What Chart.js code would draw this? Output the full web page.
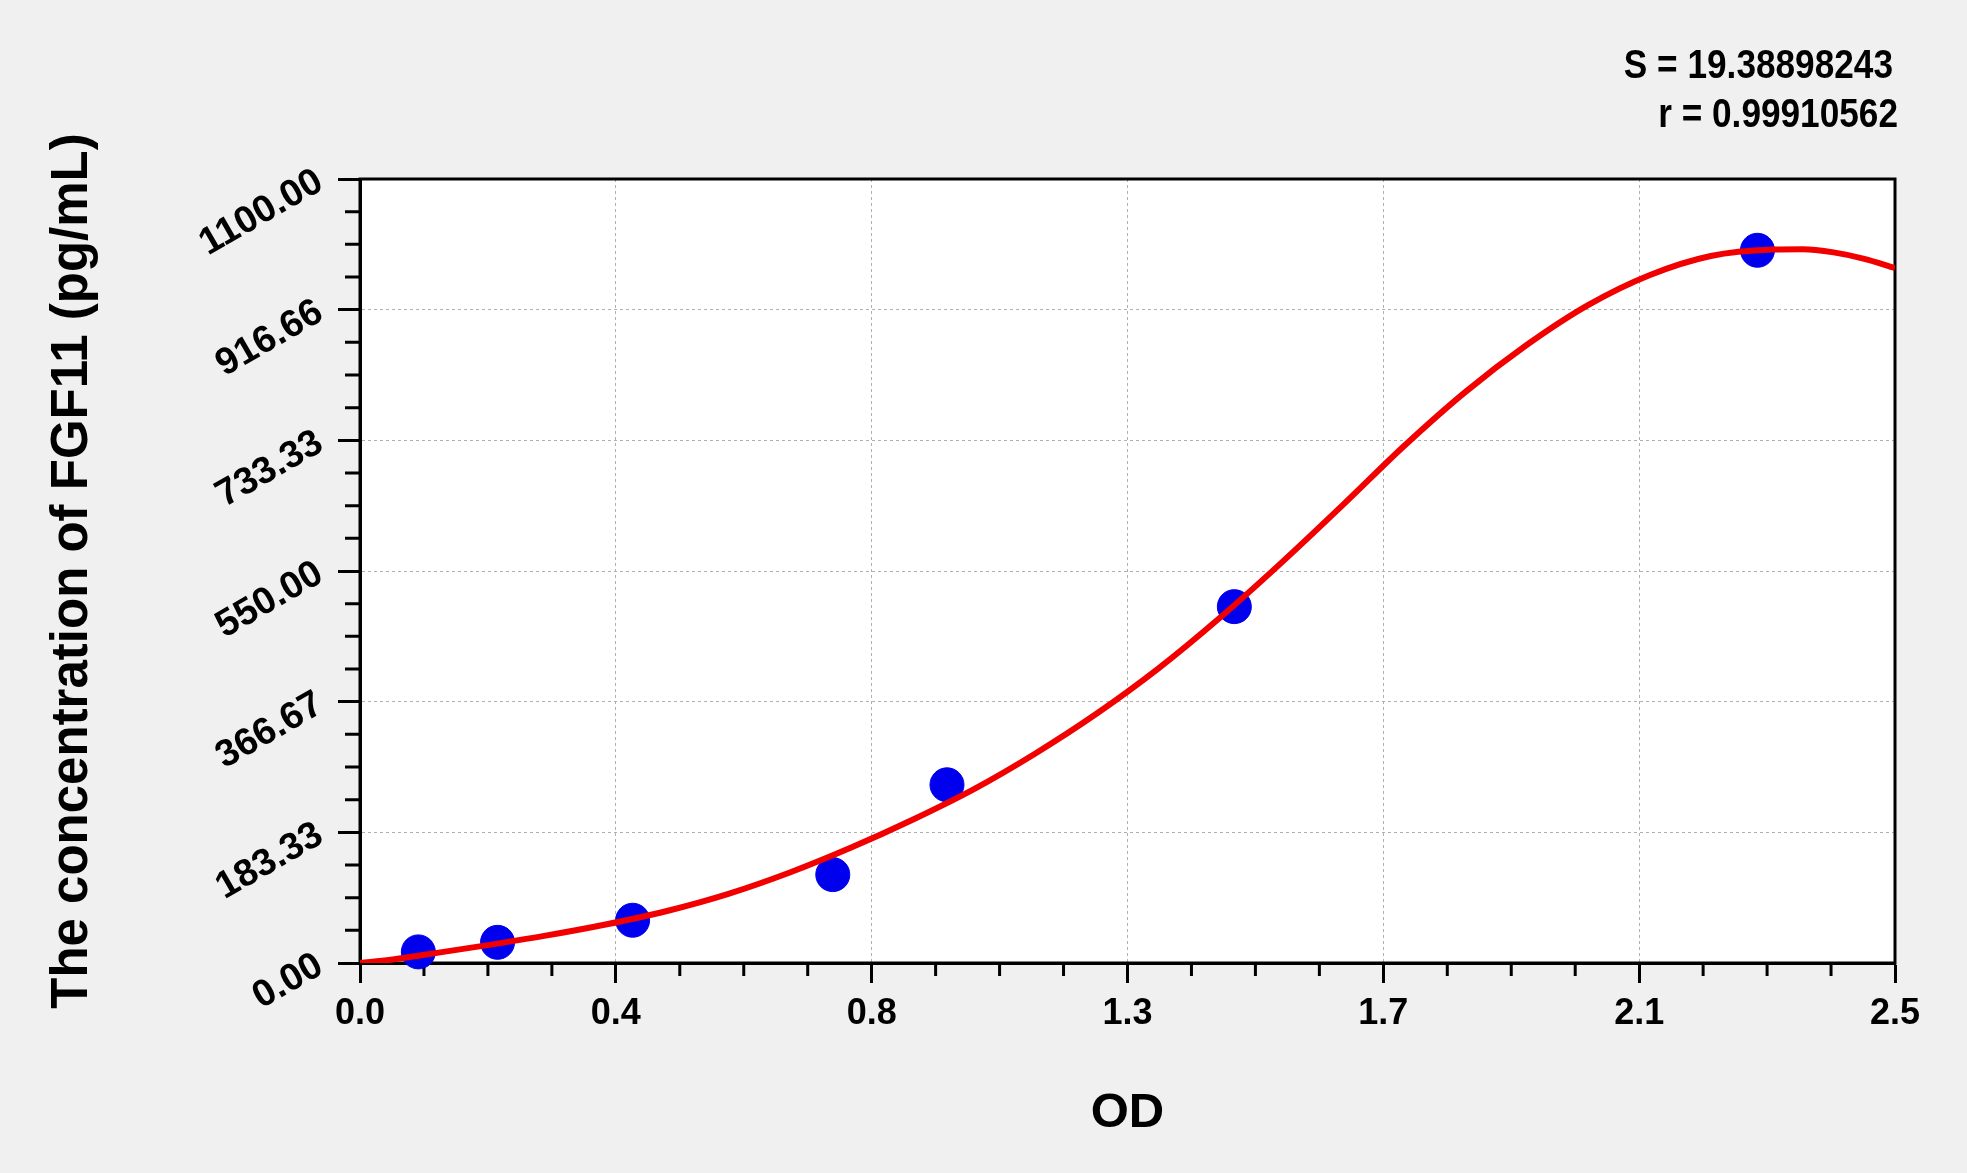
<!DOCTYPE html>
<html>
<head>
<meta charset="utf-8">
<script src="https://cdn.jsdelivr.net/npm/chart.js@4.4.1/dist/chart.umd.min.js"></script>
<style>
  html, body { margin: 0; padding: 0; background: #f0f0f0; }
  #wrap { width: 1967px; height: 1173px; position: relative; }
</style>
</head>
<body>
<div id="wrap"><canvas id="c"></canvas></div>
<script>
// ---------- data ----------
const xTickLabels = ['0.0', '0.4', '0.8', '1.3', '1.7', '2.1', '2.5'];
const yTickLabels = ['0.00', '183.33', '366.67', '550.00', '733.33', '916.66', '1100.00'];
const xAxisMax = 2.5;
const yAxisMax = 1100;

const standardOD   = [0.095, 0.224, 0.444, 0.770, 0.956, 1.424, 2.276];
const standardConc = [15.6, 29, 60, 124, 250, 500, 1000];

const curveOD   = [0, 0.05, 0.1, 0.2, 0.3, 0.4, 0.5, 0.6, 0.7, 0.8, 0.9, 1.0, 1.1, 1.2, 1.3, 1.4, 1.5, 1.6, 1.7, 1.8, 1.9, 2.0, 2.1, 2.2, 2.3, 2.35, 2.4, 2.45, 2.5];
const curveConc = [0, 4.5, 11, 24, 38, 54, 73, 97, 127, 162, 201, 244, 294, 350, 413, 484, 561, 642, 725, 801, 867, 923, 965, 992, 1001, 1001.5, 997, 988, 975];

const statsLines = ['S = 19.38898243', 'r = 0.99910562'];
const xTitle = 'OD';
const yTitle = 'The concentration of FGF11 (pg/mL)';

// ---------- styling ----------
const FONT = '"Liberation Sans", Arial, sans-serif';
Chart.defaults.font.family = FONT;
Chart.defaults.color = '#000';

const framePlugin = {
  id: 'frame',
  beforeDraw(chart) {
    const {ctx, chartArea: a} = chart;
    ctx.save();
    ctx.fillStyle = '#f0f0f0';
    ctx.fillRect(0, 0, chart.width, chart.height);
    ctx.fillStyle = '#ffffff';
    ctx.fillRect(a.left, a.top, a.right - a.left, a.bottom - a.top);
    ctx.restore();
  },
  beforeDatasetsDraw(chart) {
    const {ctx, chartArea: a, scales} = chart;
    ctx.save();
    ctx.strokeStyle = '#000';
    ctx.lineWidth = 3;
    const xs = scales.x, ys = scales.y;
    const nx = xTickLabels.length - 1, ny = yTickLabels.length - 1;
    ctx.beginPath();
    for (let i = 0; i < nx; i++) {
      for (let k = 1; k < 4; k++) {
        const px = xs.getPixelForValue((i + k / 4) * xs.max / nx);
        ctx.moveTo(px, a.bottom);
        ctx.lineTo(px, a.bottom + 13);
      }
    }
    for (let i = 0; i < ny; i++) {
      for (let k = 1; k < 4; k++) {
        const py = ys.getPixelForValue((i + k / 4) * ys.max / ny);
        ctx.moveTo(a.left, py);
        ctx.lineTo(a.left - 15, py);
      }
    }
    ctx.stroke();
    ctx.strokeRect(a.left, a.top, a.right - a.left, a.bottom - a.top);
    ctx.restore();
  },
  afterDraw(chart) {
    const {ctx} = chart;
    ctx.save();
    ctx.fillStyle = '#000';
    ctx.font = 'bold 40px ' + FONT;
    ctx.textAlign = 'right';
    ctx.textBaseline = 'alphabetic';
    const pos = [[1893, 78], [1898, 127]];
    statsLines.forEach((t, i) => {
      ctx.save();
      ctx.translate(pos[i][0], pos[i][1]);
      ctx.scale(0.88, 1);
      ctx.fillText(t, 0, 0);
      ctx.restore();
    });
    ctx.restore();
  }
};

new Chart(document.getElementById('c'), {
  type: 'scatter',
  data: {
    datasets: [
      {
        type: 'line',
        label: 'fit',
        data: curveOD.map((x, i) => ({x: x, y: curveConc[i]})),
        borderColor: '#f20000',
        borderWidth: 6,
        pointRadius: 0,
        fill: false,
        cubicInterpolationMode: 'monotone',
        order: 0
      },
      {
        label: 'standards',
        data: standardOD.map((x, i) => ({x: x, y: standardConc[i]})),
        backgroundColor: '#0000ee',
        borderColor: '#0000ee',
        pointRadius: 17,
        pointHoverRadius: 17,
        clip: false,
        order: 1
      }
    ]
  },
  options: {
    responsive: true,
    maintainAspectRatio: false,
    animation: false,
    events: [],
    layout: { padding: { top: 179, right: 72, left: 0, bottom: 0 } },
    plugins: { legend: { display: false }, tooltip: { enabled: false } },
    scales: {
      x: {
        type: 'linear',
        min: 0,
        max: xAxisMax,
        afterBuildTicks: (s) => { s.ticks = xTickLabels.map((_, i) => ({value: i * s.max / (xTickLabels.length - 1)})); },
        afterFit: (s) => { s.height = 210; },
        ticks: {
          callback: (v, i) => xTickLabels[i],
          font: { size: 36, weight: 'bold' },
          padding: 9,
          maxRotation: 0,
          minRotation: 0
        },
        grid: { color: '#b0b0b0', lineWidth: 1, tickLength: 20, tickColor: '#000', tickWidth: 3 },
        border: { display: true, color: '#000', width: 3, dash: [3, 3] },
        title: { display: true, text: xTitle, font: { size: 49, weight: 'bold' }, padding: { top: 0, bottom: 30 } }
      },
      y: {
        type: 'linear',
        min: 0,
        max: yAxisMax,
        afterBuildTicks: (s) => { s.ticks = yTickLabels.map((_, i) => ({value: i * s.max / (yTickLabels.length - 1)})); },
        afterFit: (s) => { s.width = 360; },
        ticks: {
          callback: (v, i) => yTickLabels[i],
          font: { size: 38, weight: 'bold' },
          padding: 18,
          minRotation: 30,
          maxRotation: 30
        },
        grid: { color: '#b0b0b0', lineWidth: 1, tickLength: 22, tickColor: '#000', tickWidth: 3 },
        border: { display: true, color: '#000', width: 3, dash: [3, 3] },
        title: { display: true, text: yTitle, font: { size: 51, weight: 'bold' }, padding: { top: 42, bottom: 0 } }
      }
    }
  },
  plugins: [framePlugin]
});
</script>
</body>
</html>
